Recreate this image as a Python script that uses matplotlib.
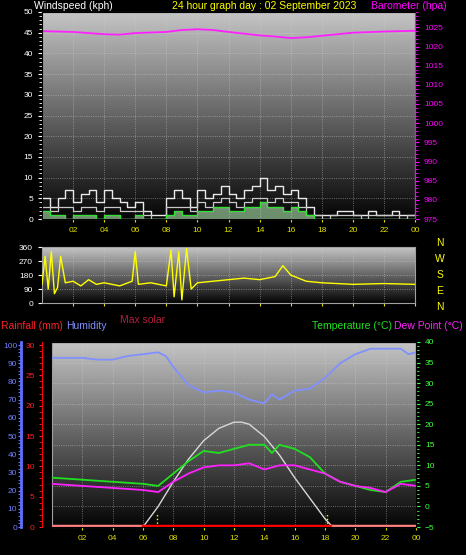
import numpy as np
import matplotlib
matplotlib.use("Agg")
import matplotlib.pyplot as plt
from matplotlib.colors import LinearSegmentedColormap
plt.rcParams['font.family'] = ['Liberation Sans', 'DejaVu Sans']

# ---- data ----
t_half = [i*0.5 for i in range(49)]
gust = [5,3,5,7,4,6,7,4, 7,5,4,3, 4,2,1,1, 5,7,5,3, 7,5,6,8, 6,5,7,8, 10,7,8,6, 7,5,3,1, 1,1,2,2, 1,1,2,1, 1,2,1,1,1]
avg  = [3,2,3,3,2,3,3,2, 3,3,2,2, 2,1,0,0, 3,3,3,2, 4,3,4,5, 4,3,4,5, 5,4,5,4, 4,3,1,1, 0,1,1,1, 1,0,1,1, 1,1,0,1,1]
green= [2,1,1,0,1,1,1,0, 1,1,0,0, 1,0,0,0, 1,2,1,1, 2,2,3,3, 2,2,3,3, 4,3,3,2, 3,2,1,0, 0,0,0,0, 0,0,0,0, 0,0,0,0,0]
baro_t = [0,2,4,5,6,8,9,10,11,12,14,15,16,17,18,20,22,24]
baro   = [1024,1023.8,1023.2,1023.1,1023.5,1023.8,1024.3,1024.5,1024.3,1023.8,1022.9,1022.6,1022.2,1022.4,1022.8,1023.6,1023.9,1024.1]
dir_t = [0,0.2,0.4,0.6,0.8,1,1.2,1.5,2,2.5,3,3.5,4,5,5.8,6,6.2,7,8,8.3,8.5,8.8,9,9.3,9.6,10,11,12,13,14,15,15.5,16,17,18,20,22,24]
dirv  = [120,300,90,330,60,100,300,130,140,110,150,120,130,110,140,330,120,130,110,340,40,330,20,350,90,130,140,150,160,150,170,240,180,140,130,120,125,120]
hum_t = [0,1,2,3,4,5,6,7,7.5,8,9,10,11,12,13,14,14.5,15,16,17,18,19,20,21,22,23,23.5,24]
hum   = [93,93,93,92,92,94,95,96,94,88,78,74,75,74,70,68,73,70,75,76,82,90,95,98,98,98,95,96]
temp_t = [0,2,4,6,7,8,9,10,11,12,13,14,14.5,15,16,17,18,19,20,21,22,23,24]
temp   = [7,6.5,6,5.5,5,8,11,13.5,13,14,15,15,13,15,14,12,8,6,5,4,3.5,6,6.5]
dew_t  = [0,2,4,6,7,8,9,10,11,12,13,14,15,16,17,18,19,20,21,22,23,24]
dew    = [5.5,5,4.5,4,3.5,6,8,9.5,10,10,10.5,9,10,10,9,8,6,5,4.5,3.5,5.5,5]
sol_t = [6,7,8,9,10,11,12,12.5,13,14,15,16,17,18,18.5]
sol   = [-5,0,6,11.5,16,19,20.5,20.5,20,17,12.5,7,2,-3,-5]
hours = [2,4,6,8,10,12,14,16,18,20,22,24]
hour_lbl = ["02","04","06","08","10","12","14","16","18","20","22","00"]

W,H = 466,555
fig = plt.figure(figsize=(W/100,H/100), dpi=100, facecolor="black")
def ax_px(l,t,r,b):
    return fig.add_axes([l/W, 1-b/H, (r-l)/W, (b-t)/H])
cmap = LinearSegmentedColormap.from_list("g", ["#050505","#c4c4c4"])
def bg(ax):
    ax.imshow(np.linspace(0,1,100).reshape(-1,1), extent=[0,1,0,1], transform=ax.transAxes,
              cmap=cmap, aspect="auto", zorder=0, origin="lower")
def style(ax, ycol="white"):
    ax.set_facecolor("black")
    ax.set_xlim(0,24)
    ax.set_xticks(hours)
    ax.set_xticklabels(hour_lbl)
    ax.tick_params(axis="x", colors="#e0e000", labelsize=6, length=2)
    ax.tick_params(axis="y", colors=ycol, labelsize=6, length=3)
    for s in ax.spines.values(): s.set_color("#a0a0a0")
    ax.grid(True, color="#d0d0d0", ls=":", lw=0.6, alpha=0.6)
    bg(ax)

fs = 7.5
# ---- top ----
ax1 = ax_px(42,12,415,219)
style(ax1)
ax1.set_ylim(0,50); ax1.set_yticks(range(0,51,5))
ax1.yaxis.set_minor_locator(matplotlib.ticker.MultipleLocator(1))
ax1.tick_params(axis="y", which="minor", colors="white", length=2)
ax1.plot(t_half, gust, color="#e8e8e8", lw=1.0, drawstyle="steps-post", zorder=3)
ax1.plot(t_half, avg, color="#c8c8c8", lw=0.9, drawstyle="steps-post", zorder=3)
ax1.fill_between(t_half, green, step="post", color="#b0e8b0", alpha=0.6, zorder=3)
ax1.plot(t_half, green, color="#30e030", lw=0.8, drawstyle="steps-post", zorder=4)
ax1b = ax1.twinx()
ax1b.set_ylim(975,1029); ax1b.set_yticks(range(975,1026,5))
ax1b.tick_params(axis="y", colors="#ff00ff", labelsize=6, length=3)
ax1b.yaxis.set_minor_locator(matplotlib.ticker.MultipleLocator(1))
ax1b.tick_params(axis="y", which="minor", colors="#ff00ff", length=2)
ax1b.spines["right"].set_color("#ff00ff")
ax1b.plot(baro_t, baro, color="#ff20ff", lw=1.3)
fig.text(34/W, 1-6/H, "Windspeed (kph)", color="white", fontsize=fs, va="center")
fig.text(172/W, 1-6/H, "24 hour graph day : 02 September 2023", color="yellow", fontsize=fs, va="center")
fig.text(371/W, 1-6/H, "Barometer (hpa)", color="#ff00ff", fontsize=fs, va="center")

# ---- mid ----
ax2 = ax_px(42,247,415,303)
style(ax2)
ax2.set_ylim(0,360); ax2.set_yticks([0,90,180,270,360])
ax2.set_xticklabels([])
ax2.plot(dir_t, dirv, color="yellow", lw=1.0, zorder=3)
for lbl, y in zip(["N","W","S","E","N"], [243,259,275,291,307]):
    fig.text(440/W, 1-y/H, lbl, color="yellow", fontsize=fs, ha="center", va="center")
fig.text(120/W, 1-320/H, "Max solar", color="#b02040", fontsize=fs, va="center")

# ---- bottom ----
ax3 = ax_px(52,342,416,527)
style(ax3, "#40ff40")
ax3.set_ylim(-5,40); ax3.set_yticks(range(-5,41,5))
ax3.plot(sol_t, sol, color="#d8d8d8", lw=1.0, zorder=3)
ax3.plot(temp_t, temp, color="#20e020", lw=1.3, zorder=4)
ax3.plot(dew_t, dew, color="#ff20ff", lw=1.3, zorder=4)
for x in [6.9,18.1]:
    ax3.plot([x,x],[-5,-1.5], color="yellow", ls=":", lw=1, zorder=5)
axr = ax3.twinx()
axr.yaxis.tick_left()
axr.set_ylim(0,30.5); axr.set_yticks(range(0,31,5))
axr.yaxis.set_minor_locator(matplotlib.ticker.MultipleLocator(1))
axr.tick_params(axis="y", which="both", colors="#ff2020", labelsize=6, length=2)
axr.spines["left"].set_position(("outward",7)); axr.spines["left"].set_color("#ff0000")
axr.spines["left"].set_visible(True)
axr.plot([0,6],[0.1,0.1], color="#ff8080", lw=2.5, zorder=5)
axr.plot([6,18.5],[0.1,0.1], color="#ff0000", lw=2.5, zorder=5)
axr.plot([18.5,24],[0.1,0.1], color="#ff8080", lw=2.5, zorder=5)
axh = ax3.twinx()
axh.yaxis.tick_left()
axh.set_ylim(0,101.7); axh.set_yticks(range(0,101,10))
axh.yaxis.set_minor_locator(matplotlib.ticker.MultipleLocator(2))
axh.tick_params(axis="y", which="both", colors="#7080ff", labelsize=6, length=2, pad=1)
axh.spines["left"].set_position(("outward",22)); axh.spines["left"].set_color("#6070ff")
axh.spines["left"].set_linewidth(2); axh.spines["left"].set_visible(True)
axh.plot(hum_t, hum, color="#8090ff", lw=1.3, zorder=4)
ax3.yaxis.tick_right()
ax3.yaxis.set_minor_locator(matplotlib.ticker.MultipleLocator(1))
ax3.tick_params(axis="y", which="both", colors="#40ff40", labelsize=6)
ax3.tick_params(axis="y", which="minor", length=2)
ax3.spines["right"].set_color("#20c020")
fig.text(1/W, 1-326/H, "Rainfall (mm)", color="#ff2020", fontsize=fs, va="center")
fig.text(66/W, 1-326/H, "Humidity", color="#8090ff", fontsize=fs, va="center")
fig.text(312/W, 1-326/H, "Temperature (°C)", color="#20e020", fontsize=fs, va="center")
fig.text(394/W, 1-326/H, "Dew Point (°C)", color="#ff20ff", fontsize=fs, va="center")
fig.savefig("out.png", dpi=100, facecolor="black")
